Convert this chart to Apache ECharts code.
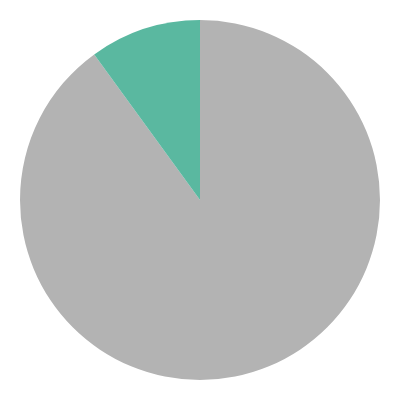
<!DOCTYPE html>
<html><head><meta charset="utf-8">
<script src="https://cdn.jsdelivr.net/npm/echarts@6/dist/echarts.min.js"></script>
<style>html,body{margin:0;padding:0;background:#fff}#c{width:400px;height:400px}</style>
</head><body><div id="c"></div>
<script>
const categories = ['Other', 'Share'];
const values = [90, 10];
const colors = ['#b3b3b3', '#5ab8a0'];
const chart = echarts.init(document.getElementById('c'), null, {renderer: 'canvas'});
chart.setOption({
  animation: false,
  series: [{
    type: 'pie',
    radius: [0, 180],
    center: [200, 200],
    startAngle: 90,
    clockwise: true,
    label: {show: false},
    labelLine: {show: false},
    itemStyle: {borderWidth: 0},
    emphasis: {disabled: true},
    data: categories.map((n, i) => ({name: n, value: values[i], itemStyle: {color: colors[i]}}))
  }]
});
</script></body></html>
